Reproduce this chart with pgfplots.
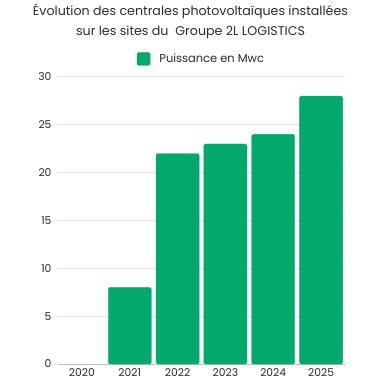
\documentclass[border=0pt]{standalone}
\usepackage{pgfplots}
\pgfplotsset{compat=1.18}
\usepackage{fontspec}
\setmainfont{Poppins}
\definecolor{barg}{HTML}{02A96A}
\definecolor{gridg}{HTML}{E3E3E3}
\definecolor{txt}{HTML}{2B2B2B}
\begin{document}
\begin{tikzpicture}
\path[use as bounding box] (0,0) rectangle (380bp,380bp);
\begin{axis}[
  at={(58bp,16bp)}, anchor=south west,
  scale only axis, width=287bp, height=287bp,
  ybar, bar width=43bp,
  xmin=-0.5, xmax=5.5, ymin=0, ymax=30,
  xtick={0,1,2,3,4,5},
  xticklabels={2020,2021,2022,2023,2024,2025},
  ytick={0,5,10,15,20,25,30},
  axis x line*=bottom, axis y line*=left,
  y axis line style={draw=none},
  x axis line style={draw=black!25, line width=1bp, -},
  major tick length=0pt,
  ymajorgrids, grid style={gridg, line width=1bp},
  /pgf/number format/assume math mode=true,
  ticklabel style={font=\fontsize{10.8}{12}\selectfont, text=txt},
  xticklabel style={yshift=-1bp},
  yticklabel style={xshift=-3bp},
  title={Évolution des centrales photovoltaïques installées\\sur les sites du\ \ Groupe 2L LOGISTICS},
  title style={align=center, font=\fontsize{12.7}{20}\selectfont, text=txt, at={(0.5,1)}, anchor=center, yshift=50bp, xshift=-11bp},
  legend style={draw=none, at={(0.5,1)}, anchor=center, yshift=18bp, font=\fontsize{11.5}{12}\selectfont, text=txt, inner sep=0pt,
    /tikz/every odd column/.append style={column sep=7bp}},
  legend cell align=left,
  clip=false,
]
\addplot[fill=barg, draw=barg, rounded corners=1.5bp,
  legend image code/.code={\fill[barg] (0bp,-6.5bp) rectangle (13bp,6.5bp);}]
  coordinates {(1,8) (2,22) (3,23) (4,24) (5,28)};
\addlegendentry{Puissance en Mwc}
\end{axis}
\end{tikzpicture}
\end{document}
